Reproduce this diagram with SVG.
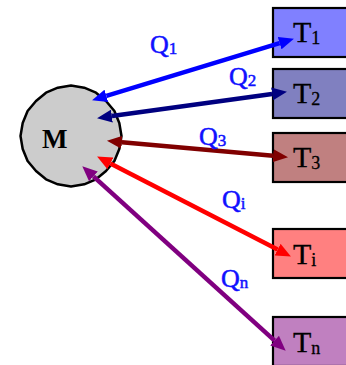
<svg xmlns="http://www.w3.org/2000/svg" width="346" height="365" viewBox="0 0 346 365">
<style>
.box{stroke:#000;stroke-width:2.2}
.t{font-family:"Liberation Serif","DejaVu Serif",serif;font-size:30px;fill:#000;stroke:#000;stroke-width:0.3}
.ts{font-size:18px}
.q{font-family:"Liberation Serif","DejaVu Serif",serif;font-size:26px;fill:#1010ff;stroke:#1010ff;stroke-width:0.5}
.qs{font-size:17px}
.c{fill:none;stroke-width:4.5}
</style>
<defs>
<marker id="h1" markerUnits="userSpaceOnUse" markerWidth="15" markerHeight="13" refX="0" refY="6.5" orient="auto-start-reverse"><path d="M0,0 L15,6.5 L0,13 z" fill="#0000ff"/></marker>
<marker id="h2" markerUnits="userSpaceOnUse" markerWidth="15" markerHeight="13" refX="0" refY="6.5" orient="auto-start-reverse"><path d="M0,0 L15,6.5 L0,13 z" fill="#000080"/></marker>
<marker id="h3" markerUnits="userSpaceOnUse" markerWidth="15" markerHeight="13" refX="0" refY="6.5" orient="auto-start-reverse"><path d="M0,0 L15,6.5 L0,13 z" fill="#800000"/></marker>
<marker id="h4" markerUnits="userSpaceOnUse" markerWidth="15" markerHeight="13" refX="0" refY="6.5" orient="auto-start-reverse"><path d="M0,0 L15,6.5 L0,13 z" fill="#ff0000"/></marker>
<marker id="h5" markerUnits="userSpaceOnUse" markerWidth="15" markerHeight="13" refX="0" refY="6.5" orient="auto-start-reverse"><path d="M0,0 L15,6.5 L0,13 z" fill="#800080"/></marker>
</defs>
<rect width="346" height="365" fill="#fff"/>
<g id="M">
<polygon points="121.5,136 119.3,149 114.4,161 106.0,171 96.0,179.3 84.2,184.3 71,186.5 57.8,184.3 46.0,179.3 36.0,171 27.6,161 22.7,149 20.5,136 22.7,123 27.6,111 36.0,101 46.0,92.7 57.8,87.7 71,85.5 84.2,87.7 96.0,92.7 106.0,101 114.4,111 119.3,123" fill="#cccccc" stroke="#000" stroke-width="2.5" stroke-linejoin="round"/>
<text x="42" y="148" font-family="Liberation Serif, DejaVu Serif, serif" font-size="27" font-weight="bold">M</text>
</g>
<g id="T1"><rect class="box" x="273" y="8" width="80" height="49" fill="#8080ff"/><text class="t" x="293" y="42">T<tspan class="ts" dy="2">1</tspan></text></g>
<g id="T2"><rect class="box" x="273" y="69" width="80" height="49" fill="#8080c0"/><text class="t" x="293" y="103">T<tspan class="ts" dy="2">2</tspan></text></g>
<g id="T3"><rect class="box" x="273" y="133" width="80" height="49" fill="#c08080"/><text class="t" x="293" y="167">T<tspan class="ts" dy="2">3</tspan></text></g>
<g id="Ti"><rect class="box" x="273" y="229" width="80" height="49" fill="#ff8080"/><text class="t" x="293" y="264">T<tspan class="ts" dy="2">i</tspan></text></g>
<g id="Tn"><rect class="box" x="273" y="317" width="80" height="49" fill="#c080c0"/><text class="t" x="293" y="352">T<tspan class="ts" dy="2">n</tspan></text></g>
<g id="connectors">
<line class="c" x1="106.4" y1="95.9" x2="279.6" y2="43.1" stroke="#0000ff" marker-start="url(#h1)" marker-end="url(#h1)"/>
<line class="c" x1="111.9" y1="116.1" x2="272.1" y2="93.9" stroke="#000080" marker-start="url(#h2)" marker-end="url(#h2)"/>
<line class="c" x1="121.9" y1="142.2" x2="273.1" y2="155.8" stroke="#800000" marker-start="url(#h3)" marker-end="url(#h3)"/>
<line class="c" x1="110.4" y1="163.4" x2="277.6" y2="249.6" stroke="#ff0000" marker-start="url(#h4)" marker-end="url(#h4)"/>
<line class="c" x1="93.4" y1="176.4" x2="274.6" y2="340.6" stroke="#800080" marker-start="url(#h5)" marker-end="url(#h5)"/>
<text class="q" x="150" y="53">Q<tspan class="qs" dy="1">1</tspan></text>
<text class="q" x="229" y="85">Q<tspan class="qs" dy="1">2</tspan></text>
<text class="q" x="199" y="145">Q<tspan class="qs" dy="1">3</tspan></text>
<text class="q" x="222" y="208">Q<tspan class="qs" dy="1">i</tspan></text>
<text class="q" x="221" y="287">Q<tspan class="qs" dy="1">n</tspan></text>
</g>
</svg>
